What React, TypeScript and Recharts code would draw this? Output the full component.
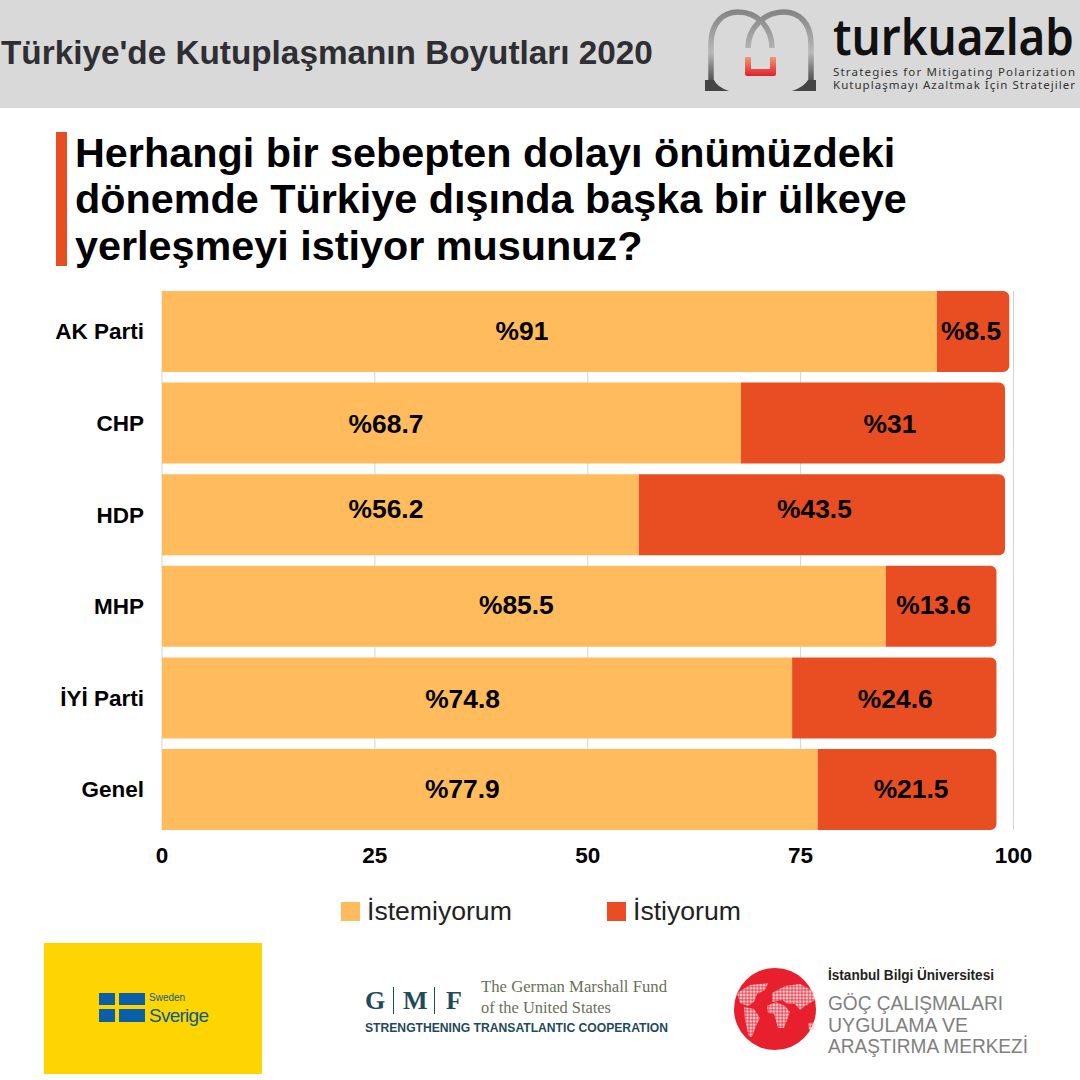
import React from 'react';
import { BarChart, Bar, XAxis, YAxis, CartesianGrid, Legend, LabelList } from 'recharts';

const categories = ['AK Parti', 'CHP', 'HDP', 'MHP', 'İYİ Parti', 'Genel'];
const notWanting = [91, 68, 56, 85, 74, 77];
const wanting = [8.5, 31, 43, 13, 24, 21];
const notWantingLabels = ['%91', '%68.7', '%56.2', '%85.5', '%74.8', '%77.9'];
const wantingLabels = ['%8.5', '%31', '%43.5', '%13.6', '%24.6', '%21.5'];
const xTicks = [0, 25, 50, 75, 100];

const chartData = categories.map((name, i) => ({ name, notWanting: notWanting[i], wanting: wanting[i] }));

const FONT = '"Liberation Sans", Arial, sans-serif';
const ORANGE = '#ffbb5c';
const RED = '#e94e23';

// label nudges relative to the bar centre (the original labels were hand placed)
const notWantingNudge = [[-27.5, -1], [-65.5, 1], [-14.5, -6], [-7.5, -1], [-14.5, 1], [-27.5, -1]];
const wantingNudge = [[-2, -1], [17, 1], [-7.5, -6], [-7.5, -1], [1, 1], [4, -1]];

const makeLabel = (texts: string[], nudges: number[][]) => (p: any) => {
  const { x, y, width, height, index } = p;
  return (
    <text
      x={x + width / 2 + nudges[index][0]}
      y={y + height / 2 + nudges[index][1]}
      textAnchor="middle"
      dominantBaseline="central"
      fontFamily={FONT}
      fontWeight={700}
      fontSize={26.4}
      fill="#000"
    >
      {texts[index]}
    </text>
  );
};

const LegendContent = (p: any) => (
  <div style={{ position: 'relative', width: 1080, height: 40, fontFamily: FONT, fontSize: 26.6, color: '#222' }}>
    {(p.payload || []).map((e: any, i: number) => (
      <div key={e.value} style={{ position: 'absolute', left: i === 0 ? 341 : 607, top: 0, display: 'flex', alignItems: 'center', height: 40 }}>
        <span style={{ display: 'inline-block', width: 19, height: 19, background: e.color, marginRight: 7 }} />
        <span>{e.value}</span>
      </div>
    ))}
  </div>
);

const TurkuazLogo = () => (
  <g>
    <defs>
      <linearGradient id="archG" x1="0" y1="0" x2="0" y2="1">
        <stop offset="0" stopColor="#858585" />
        <stop offset="0.55" stopColor="#b8b8b8" />
        <stop offset="1" stopColor="#3c3c3c" />
      </linearGradient>
      <linearGradient id="uG" x1="0" y1="0" x2="0" y2="1">
        <stop offset="0" stopColor="#f09a70" />
        <stop offset="1" stopColor="#e2202a" />
      </linearGradient>
    </defs>
    <path d="M711 86 L711 44 C711 22 724 12 738 12 C758 12 772 28 772 48" fill="none" stroke="url(#archG)" strokeWidth="5.5" />
    <path d="M811 86 L811 44 C811 22 798 12 784 12 C764 12 748 28 748 48" fill="none" stroke="url(#archG)" strokeWidth="5.5" />
    <path d="M705 91 L729 91 Q717 87 714 80 L705 80 Z" fill="#454545" />
    <path d="M816 91 L792 91 Q804 87 808 80 L816 80 Z" fill="#454545" />
    <path d="M745 57 L751 57 L751 69 L770 69 L770 57 L776 57 L776 74 Q776 76 774 76 L747 76 Q745 76 745 74 Z" fill="url(#uG)" />
    <text x={833} y={55} fontFamily="'Noto Sans'" fontWeight={600} fontSize={50} fill="#111" textLength={241} lengthAdjust="spacingAndGlyphs">turkuazlab</text>
    <text x={833} y={76} fontFamily="'Noto Sans'" fontWeight={400} fontSize={11.5} fill="#333" textLength={242}>Strategies for Mitigating Polarization</text>
    <text x={833} y={89} fontFamily="'Noto Sans'" fontWeight={400} fontSize={11.5} fill="#333" textLength={242}>Kutuplaşmayı Azaltmak İçin Stratejiler</text>
  </g>
);

const SwedenLogo = () => (
  <g>
    <rect x={44} y={943} width={218} height={131} fill="#ffd500" />
    <rect x={99} y={993} width={16} height={29} fill="#0b5ea8" />
    <rect x={119} y={993} width={26} height={29} fill="#0b5ea8" />
    <rect x={99} y={1005} width={46} height={4} fill="#ffd500" />
    <text x={149} y={1001} fontFamily={FONT} fontSize={10} fill="#0b5a8f">Sweden</text>
    <text x={149} y={1022} fontFamily={FONT} fontSize={19} fontWeight={500} fill="#0b5a8f" textLength={60}>Sverige</text>
  </g>
);

const GmfLogo = () => (
  <g>
    <text x={365} y={1009} fontFamily="'Liberation Serif'" fontWeight={700} fontSize={26} fill="#1f4a5a">G</text>
    <rect x={393} y={987} width={1} height={27} fill="#1f4a5a" />
    <text x={403} y={1009} fontFamily="'Liberation Serif'" fontWeight={700} fontSize={26} fill="#1f4a5a">M</text>
    <rect x={434} y={987} width={1} height={27} fill="#1f4a5a" />
    <text x={446} y={1009} fontFamily="'Liberation Serif'" fontWeight={700} fontSize={26} fill="#1f4a5a">F</text>
    <text x={481} y={992} fontFamily="'Liberation Serif'" fontSize={17} fill="#6a7058" textLength={186} lengthAdjust="spacingAndGlyphs">The German Marshall Fund</text>
    <text x={481} y={1013} fontFamily="'Liberation Serif'" fontSize={17} fill="#6a7058" textLength={130} lengthAdjust="spacingAndGlyphs">of the United States</text>
    <text x={365} y={1032} fontFamily={FONT} fontWeight={700} fontSize={12} fill="#1f4a5a" textLength={303} lengthAdjust="spacingAndGlyphs">STRENGTHENING TRANSATLANTIC COOPERATION</text>
  </g>
);

const BilgiLogo = () => (
  <g>
    <defs>
      <pattern id="dots" x={0} y={0} width={3.3} height={3.3} patternUnits="userSpaceOnUse">
        <rect x={0.4} y={0.4} width={2.5} height={2.5} fill="#ffd9dc" />
      </pattern>
    </defs>
    <circle cx={775} cy={1009} r={41} fill="#e8202e" />
    <path d="M737 993 L750 985 L768 983 L765 990 L757 994 L754 1002 L748 1006 L740 1003 Z" fill="url(#dots)" />
    <path d="M744 1007 L754 1009 L760 1018 L756 1026 L752 1037 L749 1037 L745 1020 Z" fill="url(#dots)" />
    <path d="M772 993 L785 986 L800 984 L815 992 L815 1000 L805 1006 L800 1010 L795 1004 L788 1004 L782 1000 L772 1002 Z" fill="url(#dots)" />
    <path d="M767 1006 L776 1002 L785 1006 L790 1012 L784 1028 L778 1028 L774 1014 L768 1013 Z" fill="url(#dots)" />
    <path d="M808 1023 L815 1022 L815 1030 L809 1030 Z" fill="url(#dots)" />
    <text x={828} y={980} fontFamily={FONT} fontWeight={700} fontSize={14} fill="#222" textLength={166} lengthAdjust="spacingAndGlyphs">İstanbul Bilgi Üniversitesi</text>
    <text x={828} y={1010} fontFamily={FONT} fontSize={21} fill="#808080" textLength={175} lengthAdjust="spacingAndGlyphs">GÖÇ ÇALIŞMALARI</text>
    <text x={828} y={1032} fontFamily={FONT} fontSize={21} fill="#808080" textLength={140} lengthAdjust="spacingAndGlyphs">UYGULAMA VE</text>
    <text x={828} y={1053} fontFamily={FONT} fontSize={21} fill="#808080" textLength={200} lengthAdjust="spacingAndGlyphs">ARAŞTIRMA MERKEZİ</text>
  </g>
);

export default function App() {
  return (
    <div style={{ position: 'absolute', left: 0, top: 0, width: 1080, height: 1080, background: '#fff', overflow: 'hidden' }}>
      <svg width={1080} height={1080} style={{ position: 'absolute', left: 0, top: 0 }}>
        <rect x={0} y={0} width={1080} height={108} fill="#d9d9d9" />
        <text x={1} y={64} fontFamily={FONT} fontWeight={700} fontSize={33.3} fill="#2e2e33">Türkiye'de Kutuplaşmanın Boyutları 2020</text>
        <TurkuazLogo />
        <rect x={56} y={132} width={11} height={134} fill={RED} />
        <text fontFamily={FONT} fontWeight={700} fontSize={41.35} fill="#000">
          <tspan x={75} y={167}>Herhangi bir sebepten dolayı önümüzdeki</tspan>
          <tspan x={75} y={213}>dönemde Türkiye dışında başka bir ülkeye</tspan>
          <tspan x={75} y={260}>yerleşmeyi istiyor musunuz?</tspan>
        </text>
        <SwedenLogo />
        <GmfLogo />
        <BilgiLogo />
      </svg>
      <div style={{ position: 'absolute', left: 0, top: 0 }}>
        <BarChart
          width={1080}
          height={1080}
          data={chartData}
          layout="vertical"
          barCategoryGap={5.3}
          margin={{ top: 291, bottom: 220, left: 62, right: 66.5 }}
        >
          <CartesianGrid horizontal={false} stroke="#d4d4d4" strokeWidth={1} />
          <XAxis
            type="number"
            domain={[0, 100]}
            ticks={xTicks}
            axisLine={false}
            tickLine={false}
            height={30}
            tickMargin={11}
            tick={{ fontFamily: FONT, fontWeight: 700, fontSize: 22.5, fill: '#000' }}
          />
          <YAxis
            type="category"
            dataKey="name"
            width={100}
            axisLine={false}
            tickLine={false}
            tickMargin={12}
            padding={{ top: -5.3, bottom: -5.3 }}
            tick={{ fontFamily: FONT, fontWeight: 700, fontSize: 22.5, fill: '#000' }}
          />
          <Legend
            layout="horizontal"
            verticalAlign="middle"
            align="center"
            wrapperStyle={{ position: 'absolute', left: 0, top: 891, width: 1080 }}
            content={LegendContent}
          />
          <Bar dataKey="notWanting" name="İstemiyorum" stackId="a" fill={ORANGE} isAnimationActive={false}>
            <LabelList content={makeLabel(notWantingLabels, notWantingNudge)} />
          </Bar>
          <Bar dataKey="wanting" name="İstiyorum" stackId="a" fill={RED} radius={[0, 6, 6, 0]} isAnimationActive={false}>
            <LabelList content={makeLabel(wantingLabels, wantingNudge)} />
          </Bar>
        </BarChart>
      </div>
    </div>
  );
}
